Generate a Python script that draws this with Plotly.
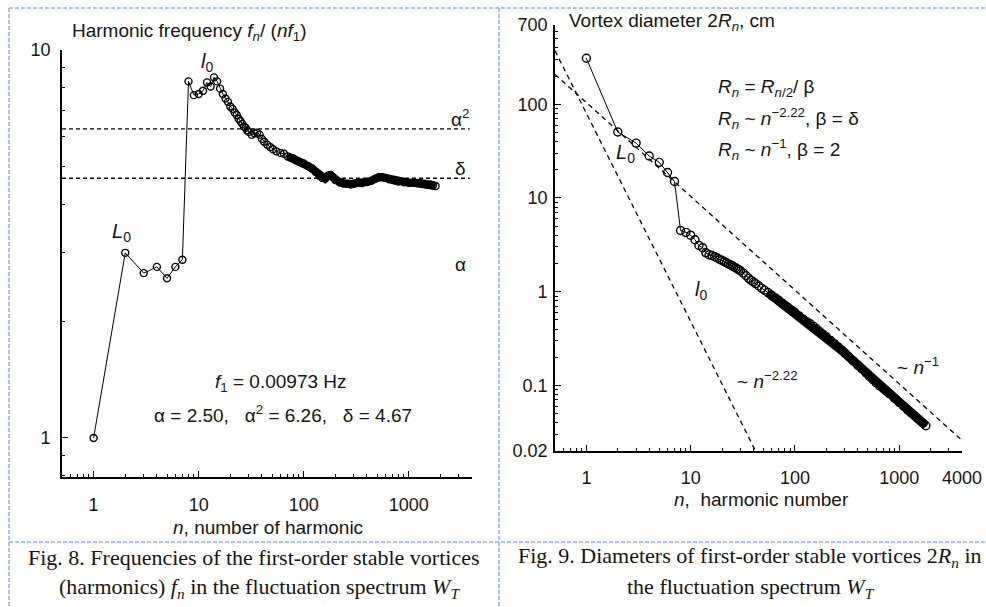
import math
import plotly.graph_objects as go

W, H = 986, 607

# ---- Fig. 8: normalised harmonic frequency f_n / (n f_1) ----
harm_n = [1, 2, 3, 4, 5, 6, 7, 8, 9, 10, 11, 12, 13, 14, 15, 16, 17, 18, 19, 20,
          21, 22, 23, 24, 25, 26, 27, 28, 29, 30,
          32, 34, 36, 38, 40, 42, 45, 48, 51, 55, 60,
          65, 70, 75, 80, 85, 90, 95, 100,
          110, 120, 130, 140, 150, 160, 170, 180, 190, 200,
          220, 240, 260, 280, 300, 330, 360, 400, 440, 480, 520, 560, 600, 650, 700, 750, 800,
          900, 1000, 1100, 1200, 1300, 1400, 1500, 1600, 1700, 1800]

freq_ratio = [1.00, 3.00, 2.66, 2.76, 2.58, 2.76, 2.88, 8.30, 7.65, 7.70, 7.85, 8.25, 8.05, 8.50, 8.30,
              7.95, 7.70, 7.50, 7.35, 7.15, 7.05, 6.90, 6.80, 6.65, 6.55, 6.45, 6.35, 6.30, 6.20, 6.15,
              6.05, 6.10, 6.12, 6.05, 5.90, 5.80, 5.70, 5.62, 5.55, 5.48, 5.43,
              5.40, 5.32, 5.28, 5.25, 5.20, 5.16, 5.12, 5.10,
              5.02, 4.95, 4.85, 4.75, 4.68, 4.66, 4.74, 4.76, 4.70, 4.62,
              4.56, 4.53, 4.52, 4.50, 4.52, 4.55, 4.54, 4.57, 4.60, 4.66, 4.70, 4.70, 4.68, 4.64,
              4.62, 4.60, 4.58,
              4.56, 4.55, 4.55, 4.54, 4.54, 4.52, 4.50, 4.50, 4.48, 4.46]

# ---- Fig. 9: vortex diameter 2R_n, cm ----
diameter_cm = [309, 50.5, 38.5, 28.0, 24.0, 18.7, 15.0, 4.50, 4.30, 4.01, 3.58, 3.12, 2.95, 2.60, 2.48,
               2.43, 2.36, 2.29, 2.21, 2.16, 2.09, 2.04, 1.98, 1.94, 1.89, 1.84, 1.80, 1.75, 1.72, 1.67,
               1.58, 1.48, 1.39, 1.32, 1.27, 1.22, 1.15, 1.09, 1.04, 0.98, 0.91,
               0.86, 0.81, 0.76, 0.72, 0.685, 0.65, 0.625, 0.60,
               0.55, 0.51, 0.48, 0.455, 0.43, 0.405, 0.38, 0.36, 0.345, 0.33,
               0.302, 0.278, 0.258, 0.240, 0.223, 0.201, 0.184, 0.165, 0.150, 0.136, 0.124, 0.115,
               0.107, 0.099, 0.093, 0.087, 0.082,
               0.073, 0.066, 0.060, 0.055, 0.051, 0.0475, 0.0445, 0.0418, 0.0395, 0.0372]

# characteristic constants
F1_HZ = 0.00973
ALPHA = 2.50
ALPHA2 = 6.26
DELTA = 4.67

# power-law guide lines  C * n^p
STEEP_EXP, STEEP_C = -2.22, 80.0
FLAT_EXP, FLAT_C = -1.0, 104.0
GUIDE_N = [0.5, 4000]

# axis ticks
x_ticks_left = [1, 10, 100, 1000]
y_ticks_left = [1, 10]
x_ticks_right = [1, 10, 100, 1000, 4000]
y_ticks_right = [0.02, 0.1, 1, 10, 100, 700]

SANS = "Liberation Sans, Arial, sans-serif"
SERIF = "Liberation Serif, Times New Roman, serif"
INK = "#151515"


def px_x(p):
    return p / W


def px_y(p):
    return 1 - p / H


def minor_vals(lo, hi, majors):
    out = []
    for k in range(-3, 5):
        for d in range(1, 10):
            v = d * 10 ** k
            if lo < v < hi and all(abs(v - m) > 1e-9 for m in majors):
                out.append(v)
    return out


def log_axis(domain, lo, hi, ticks, anchor, standoff):
    return dict(
        type="log", domain=domain, range=[math.log10(lo), math.log10(hi)], anchor=anchor,
        automargin=False,
        tickmode="array", tickvals=ticks, ticktext=[f"{t:g}" for t in ticks],
        ticks="inside", ticklen=6, tickwidth=1.3, tickcolor="black",
        showline=True, linecolor="black", linewidth=1.8,
        showgrid=False, zeroline=False, ticklabelstandoff=standoff,
        tickfont=dict(family=SANS, size=18, color=INK),
        minor=dict(tickmode="array", tickvals=minor_vals(lo, hi, ticks), ticks="inside",
                   ticklen=3, tickwidth=1, tickcolor="black", showgrid=False),
    )


fig = go.Figure()

# left panel: reference levels alpha^2 and delta
for lvl in (ALPHA2, DELTA):
    fig.add_trace(go.Scatter(x=[0.5, 3800], y=[lvl, lvl], mode="lines", xaxis="x", yaxis="y",
                             line=dict(color="black", width=1.4, dash="4px,3px"),
                             showlegend=False, hoverinfo="skip"))

# dense tail drawn as a solid band under the markers
tail_l = [i for i, n in enumerate(harm_n) if n >= 70]
fig.add_trace(go.Scatter(x=[harm_n[i] for i in tail_l], y=[freq_ratio[i] for i in tail_l],
                         mode="lines", xaxis="x", yaxis="y",
                         line=dict(color="black", width=8), showlegend=False, hoverinfo="skip"))
fig.add_trace(go.Scatter(x=harm_n, y=freq_ratio, mode="lines+markers", xaxis="x", yaxis="y",
                         line=dict(color="black", width=1),
                         marker=dict(symbol="circle-open", size=7, color="black", line=dict(width=1.4)),
                         showlegend=False))

# right panel: power-law guides
for c, p, in ((STEEP_C, STEEP_EXP), (FLAT_C, FLAT_EXP)):
    fig.add_trace(go.Scatter(x=GUIDE_N, y=[c * n ** p for n in GUIDE_N], mode="lines",
                             xaxis="x2", yaxis="y2",
                             line=dict(color="black", width=1.3, dash="5px,4px"),
                             showlegend=False, hoverinfo="skip"))

tail_r = [i for i, n in enumerate(harm_n) if n >= 55]
fig.add_trace(go.Scatter(x=[harm_n[i] for i in tail_r], y=[diameter_cm[i] for i in tail_r],
                         mode="lines", xaxis="x2", yaxis="y2",
                         line=dict(color="black", width=9), showlegend=False, hoverinfo="skip"))
fig.add_trace(go.Scatter(x=harm_n, y=diameter_cm, mode="lines+markers", xaxis="x2", yaxis="y2",
                         line=dict(color="black", width=1),
                         marker=dict(symbol="circle-open", size=8, color="black", line=dict(width=1.4)),
                         showlegend=False))

fig.update_layout(
    width=W, height=H, margin=dict(l=0, r=0, t=0, b=0, autoexpand=False),
    paper_bgcolor="white", plot_bgcolor="white", showlegend=False,
    xaxis=log_axis([px_x(62), px_x(472)], 0.5, 4000, x_ticks_left, "y", 10),
    yaxis=log_axis([px_y(477), px_y(50)], 0.793, 10, y_ticks_left, "x", 6),
    xaxis2=log_axis([px_x(555), px_x(962)], 0.5, 4000, x_ticks_right, "y2", 9),
    yaxis2=log_axis([px_y(451), px_y(25)], 0.02, 700, y_ticks_right, "x2", 2),
)


def note(text, x, y, size=19, family=SANS, xanchor="center", **kw):
    fig.add_annotation(text=text, x=px_x(x), y=px_y(y), xref="paper", yref="paper",
                       xanchor=xanchor, yanchor="middle", showarrow=False,
                       font=dict(family=family, size=size, color=INK), **kw)


NB = "\u00a0"

# left panel texts
note("Harmonic frequency <i>f<sub>n</sub></i>/ (<i>nf</i><sub>1</sub>)", 70, 32, xanchor="left")
note("<i>l</i><sub>0</sub>", 207, 62, size=20)
note("<i>L</i><sub>0</sub>", 121, 232, size=20)
note(f"<i>f</i><sub>1</sub> = {F1_HZ} Hz", 281, 383)
note(f"α = {ALPHA:.2f},{NB}{NB} α<sup>2</sup> = {ALPHA2:.2f},{NB}{NB} δ = {DELTA:.2f}", 283, 414)
note("<i>n</i>, number of harmonic", 268, 527)
for lbl, val, shift in (("α<sup>2</sup>", ALPHA2, 11), ("δ", DELTA, 10), ("α", ALPHA, 19)):
    fig.add_annotation(text=lbl, x=px_x(460), y=math.log10(val), xref="paper", yref="y",
                       yshift=shift, showarrow=False, xanchor="center", yanchor="middle",
                       font=dict(family=SANS, size=19, color=INK))

# right panel texts
note("Vortex diameter 2<i>R<sub>n</sub></i>, cm", 567, 22, xanchor="left")
note("<i>R<sub>n</sub></i> = <i>R</i><sub><i>n</i>/2</sub>/ β", 716, 88, xanchor="left")
note(f"<i>R<sub>n</sub></i> ~ <i>n</i><sup>{STEEP_EXP:.2f}</sup>, β = δ".replace("-", "−"), 716, 118, xanchor="left")
note(f"<i>R<sub>n</sub></i> ~ <i>n</i><sup>{FLAT_EXP:.0f}</sup>, β = 2".replace("-", "−"), 716, 149, xanchor="left")
note("<i>L</i><sub>0</sub>", 625, 153, size=20)
note("<i>l</i><sub>0</sub>", 701, 290, size=20)
note(f"~ <i>n</i><sup>{STEEP_EXP:.2f}</sup>".replace("-", "−"), 735, 380, xanchor="left")
note(f"~ <i>n</i><sup>{FLAT_EXP:.0f}</sup>".replace("-", "−"), 895, 366, xanchor="left")
note(f"<i>n</i>,{NB} harmonic number", 761, 499)

# captions
note("Fig. 8. Frequencies of the first-order stable vortices", 254, 557, size=22, family=SERIF)
note("(harmonics) <i>f<sub>n</sub></i> in the fluctuation spectrum <i>W<sub>T</sub></i>", 259, 588,
     size=22, family=SERIF)
note("Fig. 9. Diameters of first-order stable vortices 2<i>R<sub>n</sub></i> in", 750, 557,
     size=22, family=SERIF)
note("the fluctuation spectrum <i>W<sub>T</sub></i>", 751, 588, size=22, family=SERIF)

# dashed cell borders
BORDER = dict(color="#86aef0", width=1.5, dash="4px,2px")
for x0, y0, x1, y1 in ((9, 8, 986, 8), (9, 542, 986, 542), (9, 8, 9, 607), (499, 8, 499, 607)):
    fig.add_shape(type="line", xref="paper", yref="paper",
                  x0=px_x(x0), y0=px_y(y0), x1=px_x(x1), y1=px_y(y1), line=BORDER)

fig.write_html("out.html")
